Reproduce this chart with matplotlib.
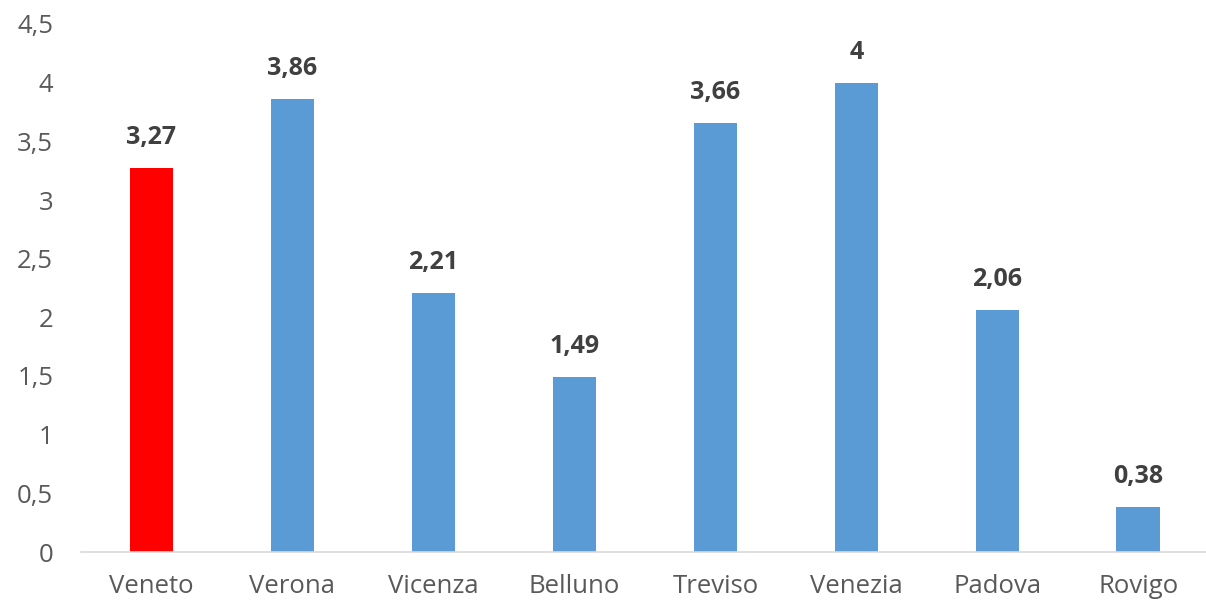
import matplotlib.pyplot as plt

provinces = ['Veneto', 'Verona', 'Vicenza', 'Belluno', 'Treviso', 'Venezia', 'Padova', 'Rovigo']
values = [3.27, 3.86, 2.21, 1.49, 3.66, 4.0, 2.06, 0.38]
labels = ['3,27', '3,86', '2,21', '1,49', '3,66', '4', '2,06', '0,38']
yticks = [0, 0.5, 1, 1.5, 2, 2.5, 3, 3.5, 4, 4.5]
ytick_labels = ['0', '0,5', '1', '1,5', '2', '2,5', '3', '3,5', '4', '4,5']

plt.rcParams['font.family'] = ['Open Sans', 'DejaVu Sans']

fig = plt.figure(figsize=(12.06, 6.07), dpi=100)
ax = fig.add_axes([81 / 1206, 1 - 552 / 607, 1 - 81 / 1206, (552 - 24) / 607])

colors = ['#FF0000'] + ['#5B9BD5'] * (len(values) - 1)
x = range(len(provinces))
bars = ax.bar(x, values, width=0.31, color=colors)

for b, lab in zip(bars, labels):
    ax.annotate(lab, (b.get_x() + b.get_width() / 2, b.get_height()),
                xytext=(0, 22), textcoords='offset points',
                ha='center', va='center', fontsize=18, fontweight='bold',
                color='#404040')

ax.set_xlim(-0.5, 7.48)
ax.set_ylim(0, 4.5)
ax.set_yticks(yticks)
ax.set_yticklabels(ytick_labels)
ax.set_xticks(list(x))
ax.set_xticklabels(provinces)
ax.tick_params(axis='both', length=0, labelsize=18.5, colors='#595959')
ax.tick_params(axis='y', pad=20)
ax.tick_params(axis='x', pad=16)

for s in ['top', 'right', 'left']:
    ax.spines[s].set_visible(False)
ax.spines['bottom'].set_color('#D9D9D9')
ax.spines['bottom'].set_linewidth(1.2)

fig.savefig('out.png', dpi=100)
